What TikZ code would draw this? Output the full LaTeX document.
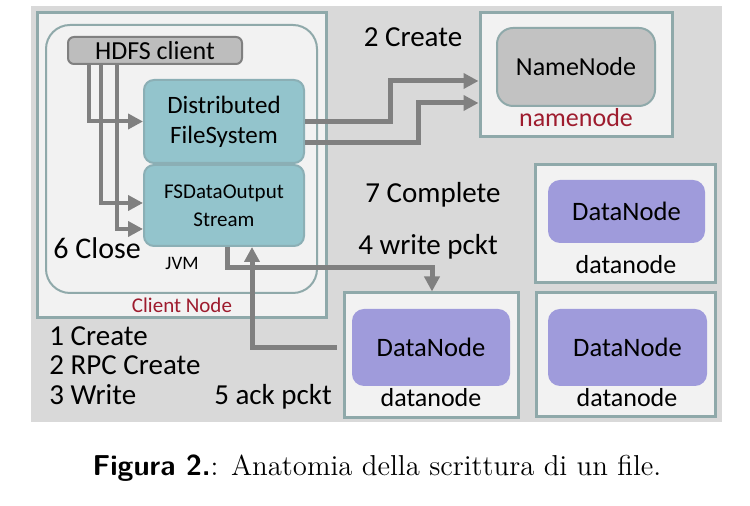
\documentclass[tikz,border=0pt]{standalone}
\usepackage{fontspec}
\newfontfamily\calib{Carlito}
\usetikzlibrary{arrows.meta}
\definecolor{bggray}{HTML}{D9D9D9}
\definecolor{boxfill}{HTML}{F2F2F2}
\definecolor{boxline}{HTML}{8FA9AA}
\definecolor{tealfill}{HTML}{93C4CC}
\definecolor{tealline}{HTML}{8BAFB5}
\definecolor{nnfill}{HTML}{C2C2C2}
\definecolor{hdfsfill}{HTML}{BDBDBD}
\definecolor{dnfill}{HTML}{9F9BDB}
\definecolor{flowgray}{HTML}{808080}
\definecolor{darkred}{HTML}{9E1C2E}
\tikzset{
  outerbox/.style={draw=boxline, fill=boxfill, line width=1.5pt, inner sep=0pt},
  javabox/.style={draw=tealline, fill=tealfill, line width=1pt, rounded corners=5pt,
    inner sep=0pt, align=center, font=\calib\fontsize{12.5}{15}\selectfont},
  nnode/.style={draw=boxline, fill=nnfill, line width=1pt, rounded corners=8pt,
    inner sep=0pt, font=\calib\fontsize{13}{15}\selectfont},
  dnode/.style={fill=dnfill, rounded corners=6pt, inner sep=0pt,
    font=\calib\fontsize{13.3}{15}\selectfont},
  bigtxt/.style={inner sep=0pt, font=\calib\fontsize{14.5}{16}\selectfont},
  midtxt/.style={inner sep=0pt, font=\calib\fontsize{13}{15}\selectfont},
  flow/.style={draw=flowgray, line width=2.5pt, -{Triangle[length=7.5pt,width=7.5pt]}},
  thinflow/.style={flow, line width=2pt}
}
\begin{document}
\begin{tikzpicture}[x=0.5pt, y=-0.5pt]
    \useasboundingbox (0,0) rectangle (750,506);
    \fill[bggray] (31,6) rectangle (722,422);
    % client side
    \node[outerbox, minimum width=144.5pt, minimum height=152.5pt] (client) at (181.5,165.5) {};
    \node[draw=boxline, fill=boxfill, line width=1pt, rounded corners=12pt, inner sep=0pt,
          minimum width=135.5pt, minimum height=134pt] (jvm) at (181.5,159) {};
    \node[draw=flowgray, fill=hdfsfill, line width=1pt, rounded corners=3pt, inner sep=0pt,
          minimum width=87pt, minimum height=13.5pt, midtxt] (hdfs) at (155,50.5) {HDFS client};
    \node[javabox, minimum width=80pt, minimum height=41.5pt] (dfs) at (224,121.5) {Distributed\\FileSystem};
    \node[javabox, minimum width=80pt, minimum height=40.5pt, font=\calib\fontsize{10.5}{14}\selectfont] (fsdos) at (224,205.5) {FSDataOutput\\Stream};
    \node[bigtxt, anchor=west, font=\calib\fontsize{15}{17}\selectfont] (close) at (53,248) {6 Close};
    \node[inner sep=0pt, font=\calib\fontsize{9.5}{11}\selectfont] (jvmlbl) at (182,263) {JVM};
    \node[inner sep=0pt, text=darkred, font=\calib\fontsize{10.5}{12}\selectfont] (clientlbl) at (182,305) {Client Node};
    % namenode
    \node[outerbox, minimum width=96pt, minimum height=62pt] (nnbox) at (576,75) {};
    \node[nnode, minimum width=79pt, minimum height=39pt] (nn) at (576,67) {NameNode};
    \node[midtxt, text=darkred] (nnlbl) at (576,118) {namenode};
    % datanodes
    \node[outerbox, minimum width=90pt, minimum height=59pt] (dnboxa) at (625,224) {};
    \node[dnode, minimum width=78.5pt, minimum height=31.5pt] (dna) at (626.5,211.5) {DataNode};
    \node[midtxt] (dnlbla) at (626,265) {datanode};
    \node[outerbox, minimum width=87pt, minimum height=62.5pt] (dnboxb) at (431,355.5) {};
    \node[dnode, minimum width=79pt, minimum height=38.5pt] (dnb) at (431,347.5) {DataNode};
    \node[midtxt] (dnlblb) at (431,398) {datanode};
    \node[outerbox, minimum width=89.5pt, minimum height=62pt] (dnboxc) at (625.5,355) {};
    \node[dnode, minimum width=79.5pt, minimum height=38.5pt] (dnc) at (627.5,347.5) {DataNode};
    \node[midtxt] (dnlblc) at (627,398) {datanode};
    % step labels
    \node[bigtxt] (create) at (413,37) {2 Create};
    \node[bigtxt] (complete) at (433,195) {7 Complete};
    \node[bigtxt] (write) at (428,247) {4 write pckt};
    \node[bigtxt] (ack) at (273,397) {5 ack pckt};
    \node[bigtxt, anchor=west] (stepa) at (49,336) {1 Create};
    \node[bigtxt, anchor=west] (stepb) at (49,365) {2 RPC Create};
    \node[bigtxt, anchor=west] (stepc) at (49,395) {3 Write};
    % arrows
    \draw[thinflow] (hdfs.south -| 89,0) |- (dfs.west);
    \draw[thinflow] (hdfs.south -| 101,0) |- (fsdos.west |- 0,203);
    \draw[thinflow] (hdfs.south -| 117,0) |- (fsdos.west |- 0,229);
    \draw[flow] (dfs.east |- 0,122) -- (390,122) |- (nnbox.west |- 0,81);
    \draw[flow] (dfs.east |- 0,143) -- (418,143) |- (nnbox.west |- 0,103);
    \draw[flow] (fsdos.south -| 227,0) -- (227,268) -| (dnboxb.north -| 432,0);
    \draw[flow, shorten <=3pt] (dnboxb.west |- 0,348) -| (fsdos.south -| 252,0);
    % caption
    \node[inner sep=0pt, font=\fontsize{14.4}{16}\selectfont] (caption) at (377,468)
        {{\sffamily\bfseries Figura 2.}: Anatomia della scrittura di un file.};
\end{tikzpicture}
\end{document}
